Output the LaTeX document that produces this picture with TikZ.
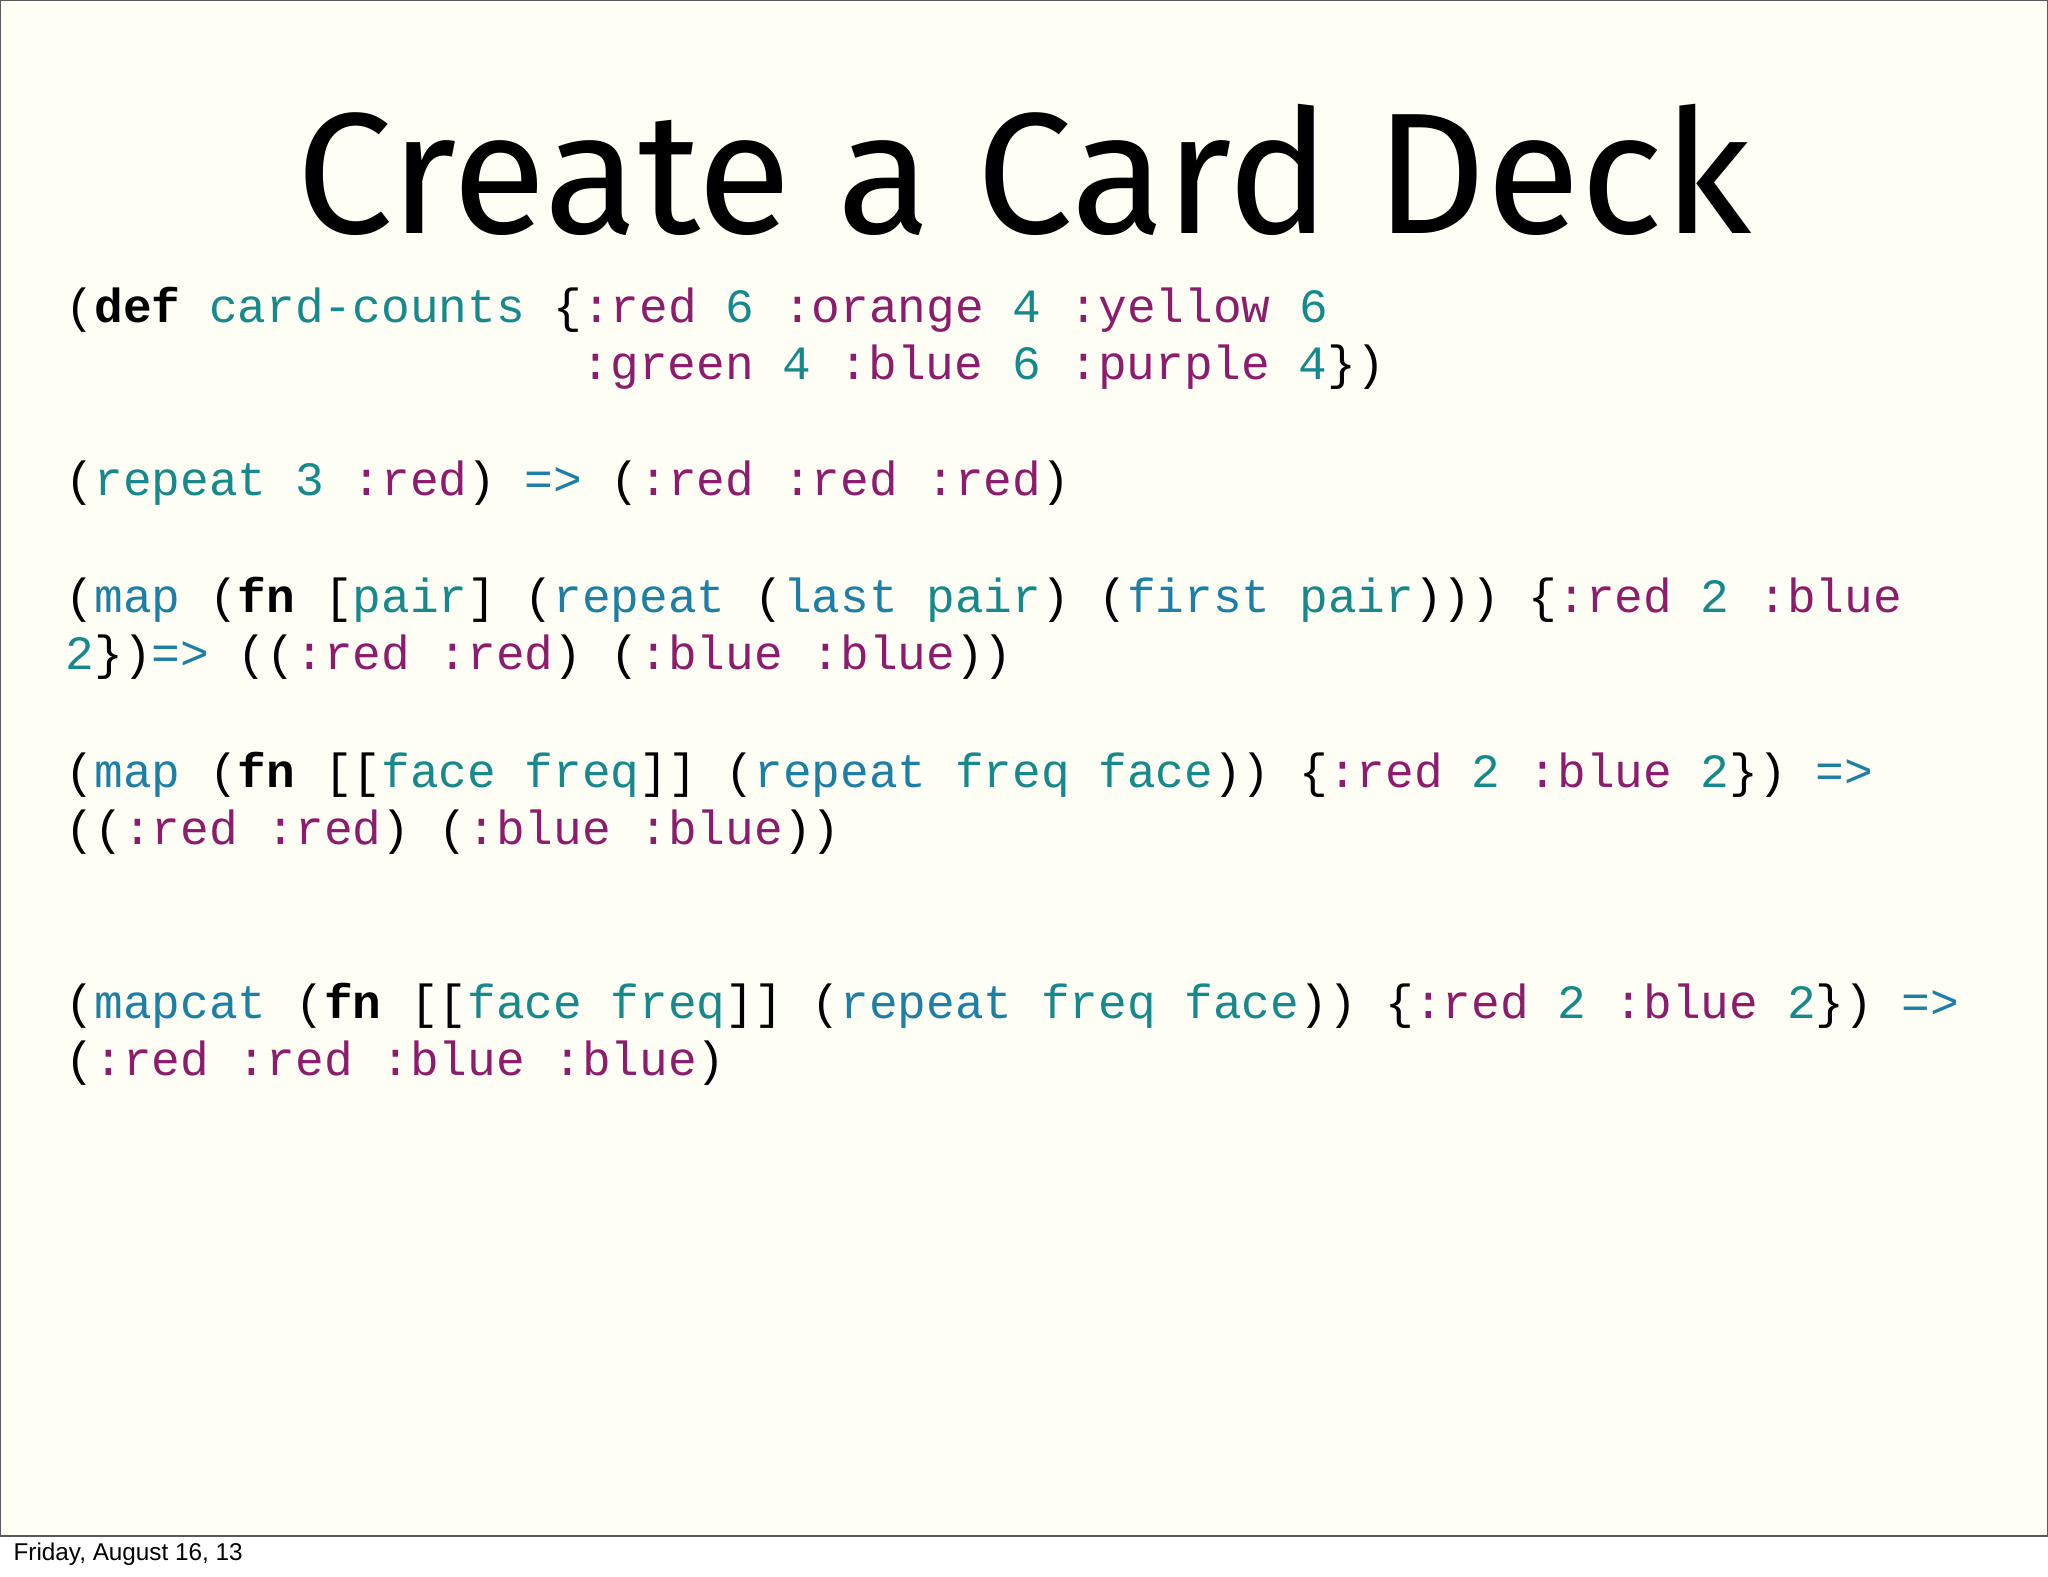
\documentclass[tikz,border=0pt]{standalone}
\usepackage{fontspec}
\setmainfont{Liberation Sans}
\setmonofont{Liberation Mono}
\newfontfamily\titlefont{Fira Sans}
\definecolor{bgc}{HTML}{FEFEF5}
\definecolor{kwc}{HTML}{8E1C6E}
\definecolor{nmc}{HTML}{16898C}
\definecolor{fnc}{HTML}{1D7FA6}
\newcommand{\kw}[1]{\textcolor{kwc}{#1}}
\newcommand{\nm}[1]{\textcolor{nmc}{#1}}
\newcommand{\fnn}[1]{\textcolor{fnc}{#1}}
\newcommand{\bk}[1]{\textbf{#1}}
\begin{document}
\begin{tikzpicture}[x=0.5pt,y=-0.5pt,
  code/.style={anchor=west,inner sep=0pt,font=\ttfamily\fontsize{18.3}{20}\selectfont}]
\useasboundingbox (0,0) rectangle (1568,1207);
\fill[white] (0,0) rectangle (1568,1207);
\fill[bgc] (0,0) rectangle (1568,1176);
\draw[gray!70!black,line width=0.6pt] (0.5,0.5) rectangle (1567.5,1176);
\node[inner sep=0pt,font=\titlefont\fontsize{66}{70}\selectfont] (title) at (784,130) {Create a Card Deck};
\node[code] (l1) at (50,237) {(\bk{def} \nm{card-counts} \{\kw{:red} \nm{6} \kw{:orange} \nm{4} \kw{:yellow} \nm{6}};
\node[code] (l2) at (445,281) {\kw{:green} \nm{4} \kw{:blue} \nm{6} \kw{:purple} \nm{4}\})};
\node[code] (l3) at (50,370) {(\nm{repeat} \nm{3} \kw{:red}) \fnn{=>} (\kw{:red} \kw{:red} \kw{:red})};
\node[code] (l4) at (50,459) {(\fnn{map} (\bk{fn} [\nm{pair}] (\fnn{repeat} (\fnn{last} \nm{pair}) (\fnn{first} \nm{pair}))) \{\kw{:red} \nm{2} \kw{:blue}};
\node[code] (l5) at (50,503) {\nm{2}\})\fnn{=>} ((\kw{:red} \kw{:red}) (\kw{:blue} \kw{:blue}))};
\node[code] (l6) at (50,593) {(\fnn{map} (\bk{fn} [[\nm{face} \nm{freq}]] (\fnn{repeat} \nm{freq} \nm{face})) \{\kw{:red} \nm{2} \kw{:blue} \nm{2}\}) \fnn{=>}};
\node[code] (l7) at (50,637) {((\kw{:red} \kw{:red}) (\kw{:blue} \kw{:blue}))};
\node[code] (l8) at (50,770) {(\fnn{mapcat} (\bk{fn} [[\nm{face} \nm{freq}]] (\fnn{repeat} \nm{freq} \nm{face})) \{\kw{:red} \nm{2} \kw{:blue} \nm{2}\}) \fnn{=>}};
\node[code] (l9) at (50,814) {(\kw{:red} \kw{:red} \kw{:blue} \kw{:blue})};
\node[anchor=west,inner sep=0pt,font=\fontsize{9.3}{11}\selectfont] (foot) at (10,1190) {Friday, August 16, 13};
\end{tikzpicture}
\end{document}
